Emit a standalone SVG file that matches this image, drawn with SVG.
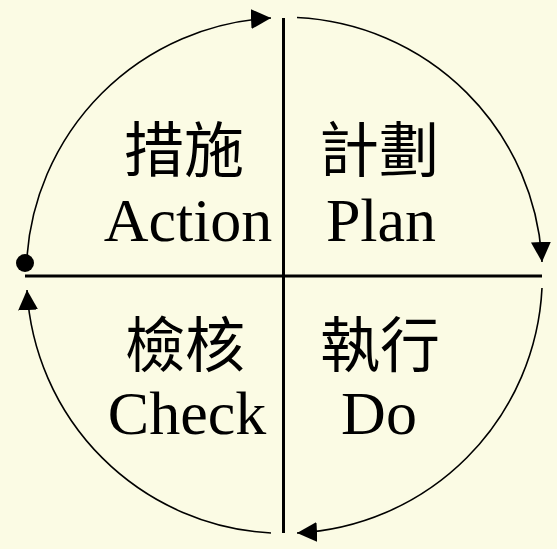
<svg xmlns="http://www.w3.org/2000/svg" width="557" height="549" viewBox="0 0 557 549">
  <style>
    .arc { fill: none; stroke: #000; stroke-width: 1.6; }
    .axis { stroke: #000; stroke-width: 3; }
    .zh { font-family: "Noto Sans CJK TC", "Noto Sans CJK SC", sans-serif; font-size: 60px; font-weight: 400; fill: #000; text-anchor: middle; }
    .en { font-family: "Liberation Serif", "Times New Roman", serif; font-size: 62px; fill: #000; text-anchor: middle; }
  </style>
  <defs>
    <marker id="arrow" markerUnits="userSpaceOnUse" markerWidth="22" markerHeight="22" refX="20" refY="10" orient="auto" viewBox="0 0 22 22">
      <path d="M0,0 L20,10 L0,20 Z" fill="#000"/>
    </marker>
  </defs>
  <rect x="0" y="0" width="557" height="549" fill="#FBFBE4"/>
  <g id="connectors">
    <path class="arc" d="M 26.6,263 A 258 258 0 0 1 271,18" marker-end="url(#arrow)"/>
    <path class="arc" d="M 297,17.5 A 258 258 0 0 1 542,262" marker-end="url(#arrow)"/>
    <path class="arc" d="M 542,288 A 258 258 0 0 1 297,533" marker-end="url(#arrow)"/>
    <path class="arc" d="M 271,533 A 258 258 0 0 1 27,290" marker-end="url(#arrow)"/>
    <line class="axis" x1="283.5" y1="18" x2="283.5" y2="533"/>
    <line class="axis" x1="25" y1="276" x2="542" y2="276"/>
    <circle cx="25" cy="263" r="9" fill="#000"/>
  </g>
  <g id="action">
    <text class="zh" x="184" y="172">措施</text>
    <text class="en" x="188" y="241">Action</text>
  </g>
  <g id="plan">
    <text class="zh" x="379" y="172">計劃</text>
    <text class="en" x="381" y="241">Plan</text>
  </g>
  <g id="check">
    <text class="zh" x="185" y="367">檢核</text>
    <text class="en" x="187" y="434">Check</text>
  </g>
  <g id="do">
    <text class="zh" x="380" y="367">執行</text>
    <text class="en" x="379" y="434">Do</text>
  </g>
</svg>
